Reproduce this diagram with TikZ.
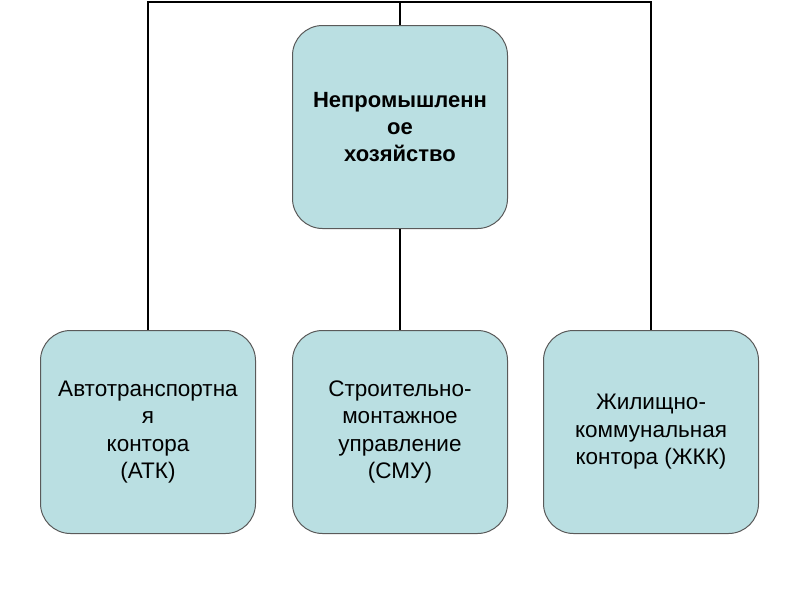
\documentclass[tikz,border=0pt]{standalone}
\usepackage{fontspec}
\setmainfont{Liberation Sans}
\definecolor{boxfill}{HTML}{BADFE2}
\definecolor{boxline}{HTML}{5A5A5A}
\begin{document}
\begin{tikzpicture}[x=1pt,y=-1pt,
  orgbox/.style={draw=boxline, line width=1pt, fill=boxfill, rounded corners=30pt,
    minimum width=215pt, minimum height=203pt, align=center, inner sep=0pt,
    font=\fontsize{22.5}{27.5}\selectfont},
  topbox/.style={orgbox, font=\bfseries\fontsize{22}{27}\selectfont},
  link/.style={line width=2pt, black}]
\useasboundingbox (0,0) rectangle (800,600);
\node[topbox] (top) at (400,127) {Непромышленн\\ое\\хозяйство};
\node[orgbox] (atk) at (148,432) {Автотранспортна\\я\\контора\\(АТК)};
\node[orgbox] (smu) at (400,432) {Строительно-\\монтажное\\управление\\(СМУ)};
\node[orgbox] (zhkk) at (651,432) {Жилищно-\\коммунальная\\контора (ЖКК)};
\coordinate (bar) at (400,2);
\draw[link] (atk.north) |- (bar) -| (zhkk.north);
\draw[link] (top.north) -- (bar);
\draw[link] (top.south) -- (smu.north);
\end{tikzpicture}
\end{document}
